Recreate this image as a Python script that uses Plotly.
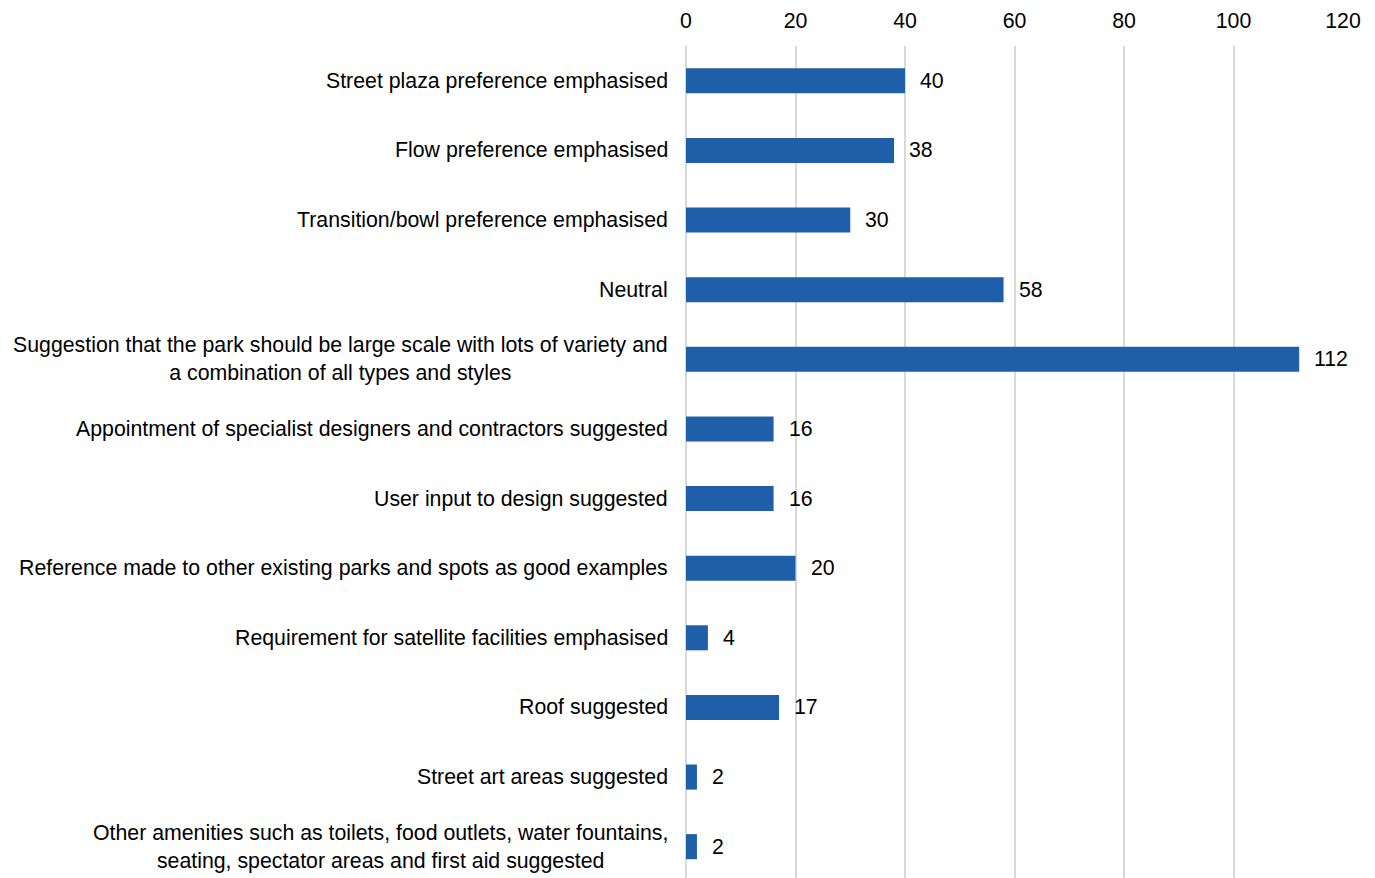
import plotly.graph_objects as go

categories = [
    "Street plaza preference emphasised",
    "Flow preference emphasised",
    "Transition/bowl preference emphasised",
    "Neutral",
    "Suggestion that the park should be large scale with lots of variety and<br>a combination of all types and styles",
    "Appointment of specialist designers and contractors suggested",
    "User input to design suggested",
    "Reference made to other existing parks and spots as good examples",
    "Requirement for satellite facilities emphasised",
    "Roof suggested",
    "Street art areas suggested",
    "Other amenities such as toilets, food outlets, water fountains,<br>seating, spectator areas and first aid suggested",
]
values = [40, 38, 30, 58, 112, 16, 16, 20, 4, 17, 2, 2]
x_ticks = [0, 20, 40, 60, 80, 100, 120]

BAR = "#1f5faa"
FONT = "Liberation Sans, Arial, sans-serif"
FS = 21.3

fig = go.Figure()
fig.add_trace(go.Bar(
    x=values, y=categories, orientation="h",
    marker=dict(color=BAR, line=dict(width=0)),
    width=0.36, hoverinfo="x+y",
))

annotations = []
for c, v in zip(categories, values):
    annotations.append(dict(
        x=v, y=c, xref="x", yref="y", text=str(v), showarrow=False,
        xanchor="left", yanchor="middle", xshift=13,
        font=dict(family=FONT, size=FS, color="#000000"),
    ))
    annotations.append(dict(
        x=0, y=c, xref="paper", yref="y", text=c, showarrow=False,
        xanchor="right", yanchor="middle", xshift=-16, align="center",
        font=dict(family=FONT, size=FS, color="#000000"),
    ))

fig.update_layout(
    width=1367, height=870,
    margin=dict(l=678, r=32, t=38, b=0),
    paper_bgcolor="white", plot_bgcolor="white",
    showlegend=False,
    font=dict(family=FONT, size=FS, color="#000000"),
    xaxis=dict(
        side="top", range=[0, 120], tickvals=x_ticks, ticktext=[str(t) for t in x_ticks],
        showgrid=True, gridcolor="#d9d9d9", gridwidth=2,
        zeroline=True, zerolinecolor="#d9d9d9", zerolinewidth=2,
        showline=False, ticks="", ticklabelstandoff=13,
        tickfont=dict(family=FONT, size=FS, color="#000000"),
    ),
    yaxis=dict(
        type="category", categoryorder="array", categoryarray=categories,
        range=[11.45, -0.5], showticklabels=False, showgrid=False,
        zeroline=False, showline=False, ticks="",
    ),
    annotations=annotations,
)

fig.write_html("out.html")
